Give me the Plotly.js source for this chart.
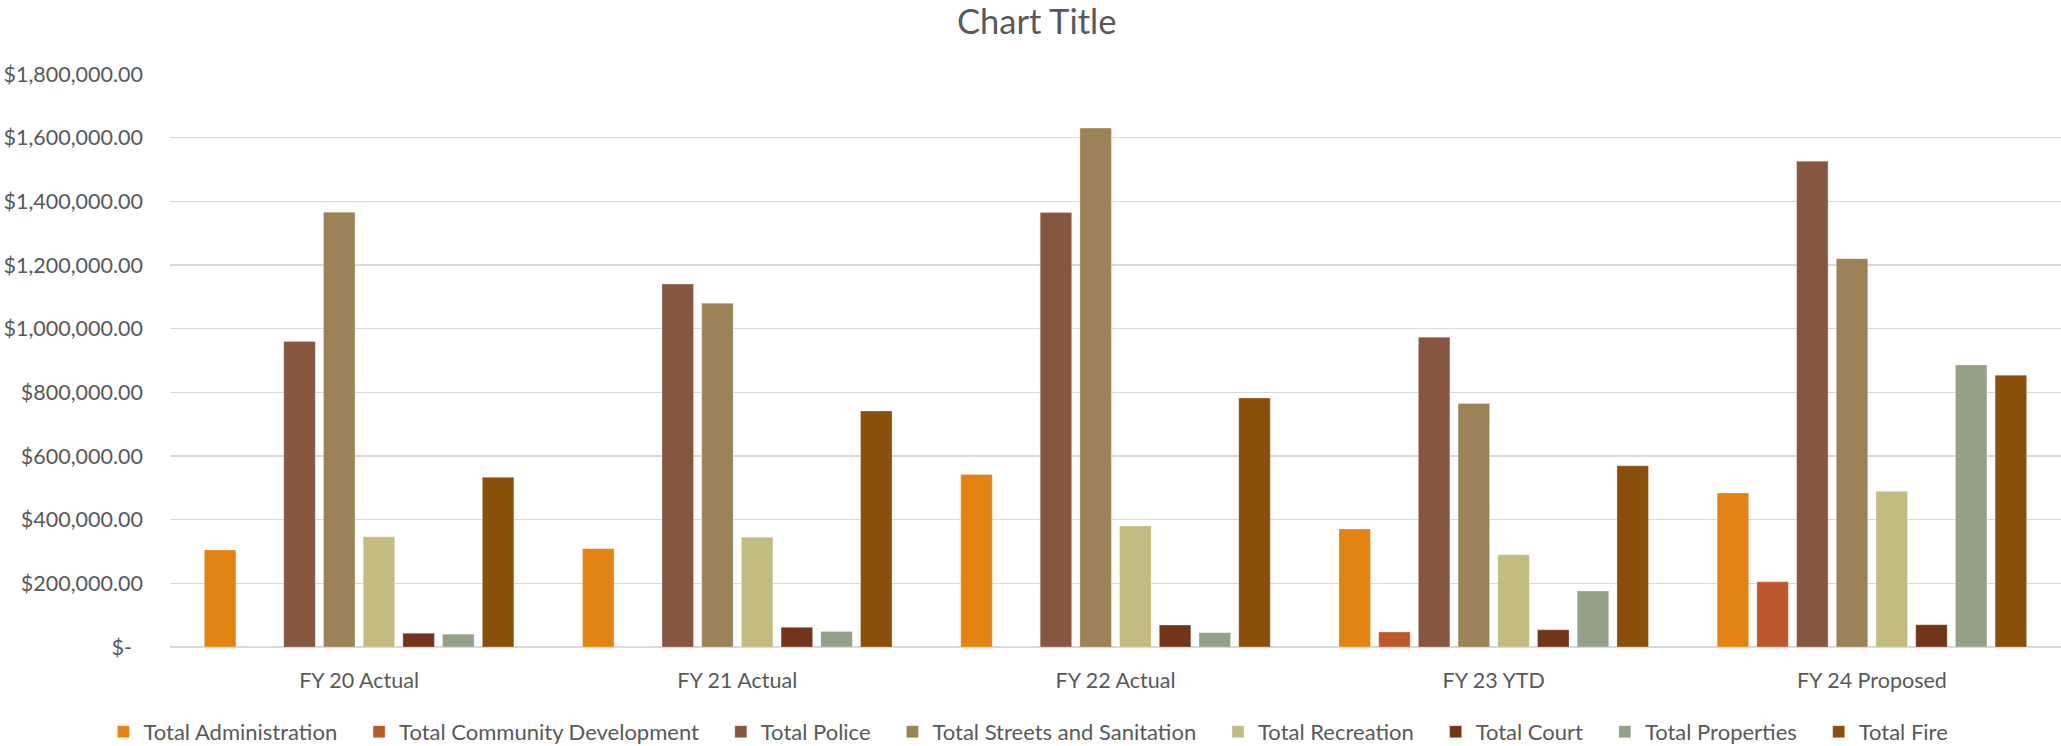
<!DOCTYPE html>
<html>
<head>
<meta charset="utf-8">
<script src="https://cdn.plot.ly/plotly-3.0.1.min.js"></script>
<style>
  html, body { margin: 0; padding: 0; background: #ffffff; overflow: hidden; }
  #chart { width: 2061px; height: 746px; }
</style>
</head>
<body>
<div id="chart"></div>
<script>
// Fiscal year columns
const years = ["FY 20 Actual", "FY 21 Actual", "FY 22 Actual", "FY 23 YTD", "FY 24 Proposed"];

// Department totals per fiscal year (USD)
const administration       = [305000, 309000, 542000, 371000, 484000];
const communityDevelopment = [0, 0, 0, 47000, 205000];
const police               = [960000, 1140000, 1365000, 973000, 1526000];
const streetsSanitation    = [1366000, 1080000, 1630000, 765000, 1220000];
const recreation           = [346000, 345000, 380000, 290000, 489000];
const court                = [43000, 62000, 69000, 54000, 70000];
const properties           = [40000, 49000, 45000, 176000, 886000];
const fire                 = [533000, 741000, 782000, 569000, 854000];

// Value axis ticks (accounting style)
const tickValues = [0, 200000, 400000, 600000, 800000, 1000000, 1200000, 1400000, 1600000, 1800000];
const tickLabels = ["$-\u00a0\u00a0", "$200,000.00", "$400,000.00", "$600,000.00", "$800,000.00",
                    "$1,000,000.00", "$1,200,000.00", "$1,400,000.00", "$1,600,000.00", "$1,800,000.00"];

const seriesNames = ["Total Administration", "Total Community Development", "Total Police",
                     "Total Streets and Sanitation", "Total Recreation", "Total Court",
                     "Total Properties", "Total Fire"];
const seriesValues = [administration, communityDevelopment, police, streetsSanitation,
                      recreation, court, properties, fire];
const seriesColors = ["#E48312", "#BD582C", "#865640", "#9B8357", "#C2BC80", "#72351A", "#94A088", "#8A4F0B"];

const FONT = "Lato, 'Open Sans', sans-serif";
const TEXT = "#595959";
// extra room after each legend entry
const LEGEND_PAD = "\u00a0\u00a0\u00a0";

const traces = seriesNames.map((name, i) => ({
  type: "bar",
  name: i < seriesNames.length - 1 ? name + LEGEND_PAD : name,
  x: years,
  y: seriesValues[i],
  marker: { color: seriesColors[i], line: { color: "rgba(255,255,255,0.35)", width: 0.8 } },
  hoverinfo: "x+y+name"
}));

const layout = {
  width: 2061,
  height: 746,
  paper_bgcolor: "#ffffff",
  plot_bgcolor: "#ffffff",
  margin: { l: 170, r: 0, t: 74, b: 99 },
  font: { family: FONT, color: TEXT, size: 21.5 },
  title: {
    text: "Chart Title",
    font: { family: FONT, size: 34.5, color: TEXT },
    xref: "container",
    x: 0.503,
    xanchor: "center",
    yref: "container",
    y: 0.971,
    yanchor: "middle"
  },
  barmode: "group",
  bargap: 0.16,
  bargroupgap: 0.207,
  xaxis: {
    type: "category",
    showgrid: false,
    showline: false,
    ticks: "",
    ticklabelstandoff: 18,
    tickfont: { family: FONT, size: 21.5, color: TEXT },
    fixedrange: true
  },
  yaxis: {
    range: [0, 1800000],
    tickmode: "array",
    tickvals: tickValues,
    ticktext: tickLabels,
    showgrid: true,
    gridcolor: "#D9D9D9",
    gridwidth: 1.6,
    zeroline: true,
    zerolinecolor: "#D9D9D9",
    zerolinewidth: 2,
    showline: false,
    ticks: "",
    ticklabelstandoff: 26,
    tickfont: { family: FONT, size: 21.5, color: TEXT },
    fixedrange: true
  },
  showlegend: true,
  legend: {
    orientation: "h",
    xref: "container",
    yref: "container",
    x: 0.499,
    xanchor: "center",
    y: 0.019,
    yanchor: "middle",
    font: { family: FONT, size: 22, color: TEXT },
    traceorder: "normal",
    itemclick: false,
    itemdoubleclick: false
  }
};

Plotly.newPlot("chart", traces, layout, { displayModeBar: false, staticPlot: true });
</script>
</body>
</html>
